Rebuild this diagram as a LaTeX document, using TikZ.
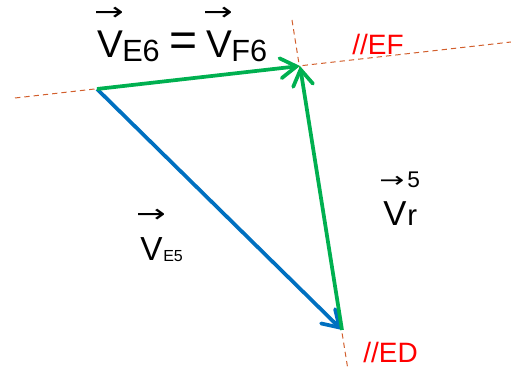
\documentclass[tikz,border=0pt]{standalone}
\usepackage{fontspec}
\setmainfont{Liberation Sans}
\newfontfamily\arrowfont{DejaVu Sans}
\usetikzlibrary{arrows.meta}
\definecolor{vblue}{RGB}{0,112,192}
\definecolor{vgreen}{RGB}{0,176,80}
\definecolor{guide}{RGB}{210,95,45}
\newcommand{\fs}[1]{\fontsize{#1}{#1}\selectfont}
\newcommand{\varrow}{\scalebox{1.4}[1]{→}}

\begin{document}
\begin{tikzpicture}[x=0.75pt,y=-0.75pt,>={Straight Barb[length=12pt,width=15pt,line cap=round]},
  vec/.style={line width=2.8pt,->},
  guideline/.style={guide,line width=0.75pt,dash pattern=on 4pt off 3pt},
  txt/.style={inner sep=0pt,anchor=base west},
  over/.style={inner sep=0pt,font=\arrowfont\fs{19}},
  tag/.style={txt,red,font=\fs{21}}]
  \useasboundingbox (0,0) rectangle (511,370);
  % triangle corners
  \coordinate (A) at (97,89);
  \coordinate (B) at (300,66);
  \coordinate (C) at (342,330);
  % guide lines through the corners
  \coordinate (efL) at (15,98);
  \coordinate (efR) at (511,42);
  \coordinate (edT) at (292,20);
  \coordinate (edB) at (348,370);
  \draw[guideline] (efL) -- (efR);
  \draw[guideline] (edT) -- (edB);
  \node[tag] (ef) at (352,55) {//EF};
  \node[tag] (ed) at (363,363) {//ED};
  % vectors
  \draw[vec,vblue] (A) -- (C);
  \draw[vec,vgreen] (A) -- (B);
  \draw[vec,vgreen] (C) -- (B);
  % V_E6 = V_F6
  \node[txt,font=\fs{29}] (vE6) at (97,58) {V};
  \node[txt,font=\fs{23}] (sE6) at (122,62) {E6};
  \node[inner sep=0pt,font=\fs{36}] (eq) at (184,45) {=};
  \node[txt,font=\fs{29}] (vF6) at (206,58) {V};
  \node[txt,font=\fs{23}] (sF6) at (231,62) {F6};
  \node[over] (arE6) at (109,14) {\varrow};
  \node[over] (arF6) at (218,14) {\varrow};
  % V_E5
  \node[txt,font=\fs{25}] (vE5) at (140,261) {V};
  \node[txt,font=\fs{12}] (sE5) at (163,262) {E5};
  \node[over] (arE5) at (151,216) {\varrow};
  % V_r^5
  \node[txt,font=\fs{26}] (vr) at (383,226) {V};
  \node[txt,font=\fs{22}] (sr) at (407,226) {r};
  \node[over,font=\arrowfont\fs{16}] (arr) at (392,182) {\varrow};
  \node[txt,font=\fs{17}] (sup5) at (407,188) {5};
\end{tikzpicture}
\end{document}
